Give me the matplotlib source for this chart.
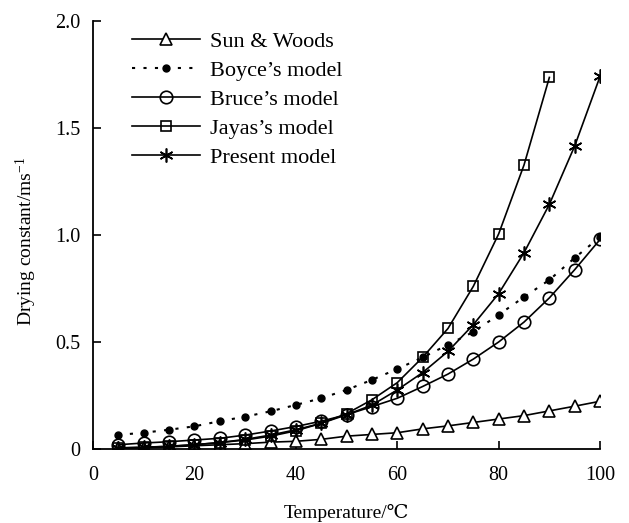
import matplotlib
matplotlib.use("Agg")
import matplotlib.pyplot as plt
from matplotlib.ticker import FixedLocator, FuncFormatter

plt.rcParams['font.family'] = ['Liberation Serif', 'DejaVu Serif']
plt.rcParams['mathtext.fontset'] = 'custom'
plt.rcParams['mathtext.rm'] = 'Liberation Serif'
plt.rcParams['mathtext.it'] = 'Liberation Serif:italic'

temps = [5, 10, 15, 20, 25, 30, 35, 40, 45, 50, 55, 60, 65, 70, 75, 80, 85, 90, 95, 100]
temps_jayas = [5, 10, 15, 20, 25, 30, 35, 40, 45, 50, 55, 60, 65, 70, 75, 80, 85, 90]

sun_woods = [0.003, 0.006, 0.01, 0.015, 0.02, 0.025, 0.032, 0.036, 0.045, 0.06, 0.068, 0.076, 0.094, 0.108, 0.124, 0.14, 0.156, 0.178, 0.2, 0.223]
boyce = [0.066, 0.076, 0.09, 0.106, 0.13, 0.151, 0.176, 0.206, 0.237, 0.276, 0.323, 0.374, 0.428, 0.487, 0.547, 0.627, 0.71, 0.79, 0.893, 0.99]
bruce = [0.02, 0.028, 0.034, 0.042, 0.05, 0.065, 0.084, 0.105, 0.13, 0.16, 0.198, 0.237, 0.292, 0.35, 0.42, 0.5, 0.593, 0.706, 0.838, 0.979]
jayas = [0.005, 0.008, 0.012, 0.02, 0.03, 0.042, 0.06, 0.085, 0.12, 0.165, 0.23, 0.31, 0.428, 0.563, 0.76, 1.005, 1.327, 1.736]
present = [0.005, 0.008, 0.013, 0.02, 0.03, 0.045, 0.065, 0.09, 0.12, 0.16, 0.205, 0.276, 0.357, 0.456, 0.581, 0.726, 0.917, 1.143, 1.416, 1.741]

fig = plt.figure(figsize=(6.29, 5.23), dpi=100)
ax = fig.add_axes([0.148, 0.1415, 0.806, 0.8185])

lw = 1.2
ax.plot(temps, sun_woods, color='black', lw=lw, marker='^', ms=8.5, mfc='white', mec='black', mew=1.2, label='Sun & Woods')
ax.plot(temps, boyce, color='black', lw=1.5, ls=(0, (1.5, 4)), marker='o', ms=5, mfc='black', mec='black', label='Boyce\u2019s model')
ax.plot(temps, bruce, color='black', lw=lw, marker='o', ms=9, mfc='none', mec='black', mew=1.2, label='Bruce\u2019s model')
ax.plot(temps_jayas, jayas, color='black', lw=lw, marker='s', ms=7, mfc='none', mec='black', mew=1.2, label='Jayas\u2019s model')
ax.plot(temps, present, color='black', lw=lw, marker=(6, 2, 0), ms=10, mec='black', mew=1.2, label='Present model')

ax.set_xlim(0, 100)
ax.set_ylim(0, 2.0)
ax.xaxis.set_major_locator(FixedLocator([0, 20, 40, 60, 80, 100]))
ax.yaxis.set_major_locator(FixedLocator([0, 0.5, 1.0, 1.5, 2.0]))
ax.xaxis.set_major_formatter(FuncFormatter(lambda v, p: '%d' % v))
ax.yaxis.set_major_formatter(FuncFormatter(lambda v, p: '0' if v == 0 else '%.1f' % v))
ax.tick_params(direction='in', length=6, width=1.2, labelsize=14.5, colors='black')
ax.tick_params(axis='x', pad=12)
ax.tick_params(axis='y', pad=9)
for s in ['top', 'right']:
    ax.spines[s].set_visible(False)
for s in ['left', 'bottom']:
    ax.spines[s].set_linewidth(1.3)

ax.set_xlabel('Temperature/\u2103', fontsize=14, labelpad=14)
ax.set_ylabel('Drying constant/ms$^{\\mathregular{-1}}$', fontsize=14)
ax.yaxis.set_label_coords(-0.106, 0.484)

leg = ax.legend(loc='upper left', bbox_to_anchor=(0.077, 0.976), frameon=False, fontsize=16,
                borderpad=0, borderaxespad=0, handlelength=3.05, labelspacing=0.38, handletextpad=0.45)

fig.savefig('out.png', dpi=100)
